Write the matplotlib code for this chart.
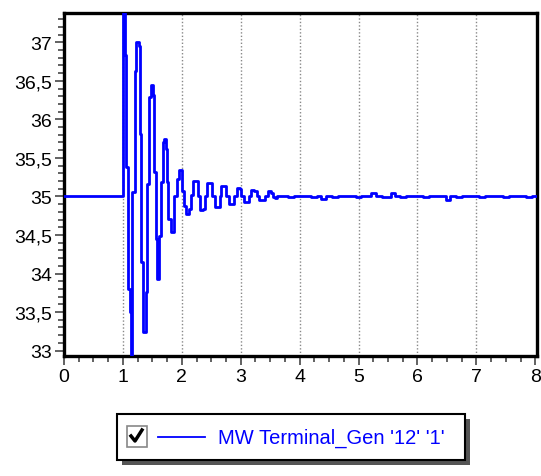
import matplotlib
matplotlib.use("Agg")
from matplotlib import pyplot as plt
from matplotlib.patches import Rectangle
from matplotlib.lines import Line2D
from matplotlib.ticker import MultipleLocator, FuncFormatter

# step breakpoints of the MW trace (value held until next time)
t_main = [0.0, 1.003, 1.037, 1.054, 1.088, 1.122, 1.145, 1.162, 1.202, 1.230,
          1.276, 1.287, 1.304, 1.344, 1.389, 1.417, 1.446, 1.474, 1.514, 1.531,
          1.559, 1.587, 1.616, 1.644, 1.684, 1.701, 1.729, 1.746, 1.774, 1.814]
v_main = [35.0, 37.6, 36.83, 35.38, 33.80, 33.50, 32.90, 35.06, 36.63, 37.00,
          36.95, 35.81, 34.15, 33.24, 33.76, 35.16, 36.29, 36.44, 36.31, 35.32,
          34.45, 33.93, 34.49, 35.19, 35.71, 35.75, 35.62, 35.19, 34.71, 34.54]

t_osc = [1.87, 1.92, 1.96, 2.00, 2.04, 2.07, 2.12, 2.15, 2.19, 2.24, 2.27, 2.31,
         2.36, 2.39, 2.43, 2.49, 2.52, 2.56, 2.61, 2.64, 2.67, 2.72, 2.75, 2.80,
         2.86, 2.89, 2.93, 2.98, 3.01, 3.05, 3.11, 3.14, 3.18, 3.23, 3.27, 3.31,
         3.37, 3.41, 3.46, 3.51, 3.55, 3.58, 3.62]
v_osc = [35.00, 35.23, 35.34, 35.07, 34.88, 34.77, 34.84, 35.02, 35.20, 35.20, 35.00, 34.83,
         34.84, 35.00, 35.17, 35.17, 35.00, 34.86, 34.86, 35.00, 35.14, 35.13, 35.00, 34.90,
         34.90, 35.00, 35.11, 35.10, 35.00, 34.93, 34.93, 35.00, 35.08, 35.07, 35.00, 34.95,
         34.95, 35.00, 35.07, 35.05, 34.99, 34.98, 35.00]

t_tail = [3.70, 3.80, 3.90, 4.00, 4.10, 4.20, 4.30, 4.37, 4.45, 4.55, 4.65, 4.75,
          4.85, 4.95, 5.05, 5.15, 5.22, 5.30, 5.40, 5.55, 5.62, 5.70, 5.80, 5.90,
          6.00, 6.10, 6.20, 6.30, 6.40, 6.49, 6.56, 6.65, 6.75, 6.85, 6.95, 7.05,
          7.15, 7.25, 7.35, 7.45, 7.55, 7.65, 7.75, 7.85, 7.95, 8.03]
v_tail = [35.01, 34.99, 35.01, 35.00, 35.01, 34.99, 35.01, 34.97, 35.01, 34.99, 35.01, 35.00,
          35.01, 34.99, 35.01, 35.01, 35.05, 35.01, 34.99, 35.05, 35.01, 34.99, 35.01, 35.00,
          35.01, 34.99, 35.01, 35.00, 35.01, 34.96, 35.01, 34.99, 35.01, 35.00, 35.01, 34.99,
          35.01, 35.00, 35.01, 34.99, 35.01, 35.00, 35.01, 34.99, 35.01, 35.01]

x_ticks = [0, 1, 2, 3, 4, 5, 6, 7, 8]
y_ticks = [33, 33.5, 34, 34.5, 35, 35.5, 36, 36.5, 37]
legend_label = "MW Terminal_Gen '12' '1'"

plt.rcParams['font.family'] = ['Liberation Sans', 'DejaVu Sans']

fig = plt.figure(figsize=(5.41, 4.77), dpi=100)
ax = fig.add_axes([64 / 541, 1 - 357 / 477, 473 / 541, 343 / 477])

t_all = t_main + t_osc + t_tail
v_all = v_main + v_osc + v_tail
ax.plot(t_all, v_all, color='#0000ff', linewidth=2.0, drawstyle='steps-post',
        clip_on=True, zorder=3)

ax.set_xlim(0, 8.03)
ax.set_ylim(32.93, 37.38)
ax.set_xticks(x_ticks)
ax.set_yticks(y_ticks)
ax.xaxis.set_minor_locator(MultipleLocator(0.25))
ax.yaxis.set_minor_locator(MultipleLocator(0.1))
ax.yaxis.set_major_formatter(FuncFormatter(lambda v, p: ('%g' % v).replace('.', ',')))

ax.tick_params(which='major', direction='out', length=6.5, width=1.3, color='#555555',
               labelsize=14, pad=2)
ax.tick_params(which='minor', direction='out', length=4, width=1.3, color='#555555')
ax.tick_params(top=False, right=False)

for s in ax.spines.values():
    s.set_linewidth(2.4)
    s.set_color('black')

for x in x_ticks[1:-1]:
    ax.axvline(x, color='#888888', linestyle=(0, (1, 1.5)), linewidth=1, zorder=1)

# legend box drawn by hand, with drop shadow
W, H = 541.0, 477.0
bx0, by0, bx1, by1 = 117, 415, 465, 461
fig.patches.append(Rectangle(((bx0 + 5) / W, 1 - (by1 + 5) / H), (bx1 - bx0) / W, (by1 - by0) / H,
                             transform=fig.transFigure, facecolor='#555555', edgecolor='none'))
fig.patches.append(Rectangle((bx0 / W, 1 - by1 / H), (bx1 - bx0) / W, (by1 - by0) / H,
                             transform=fig.transFigure, facecolor='white', edgecolor='black',
                             linewidth=1.5))
# checkbox
fig.patches.append(Rectangle((127 / W, 1 - 448 / H), 20 / W, 21 / H, transform=fig.transFigure,
                             facecolor='white', edgecolor='#888888', linewidth=1.2))
fig.lines.append(Line2D([131 / W, 135 / W, 142 / W], [1 - 437 / H, 1 - 442 / H, 1 - 431 / H],
                        transform=fig.transFigure, color='black', linewidth=2.5))
fig.lines.append(Line2D([158 / W, 205 / W], [1 - 438 / H, 1 - 438 / H],
                        transform=fig.transFigure, color='#0000ff', linewidth=1.3))
fig.text(218 / W, 1 - 438 / H, legend_label, color='#0000ff', fontsize=14.5,
         va='center', ha='left')

plt.savefig('out.png', dpi=100)
